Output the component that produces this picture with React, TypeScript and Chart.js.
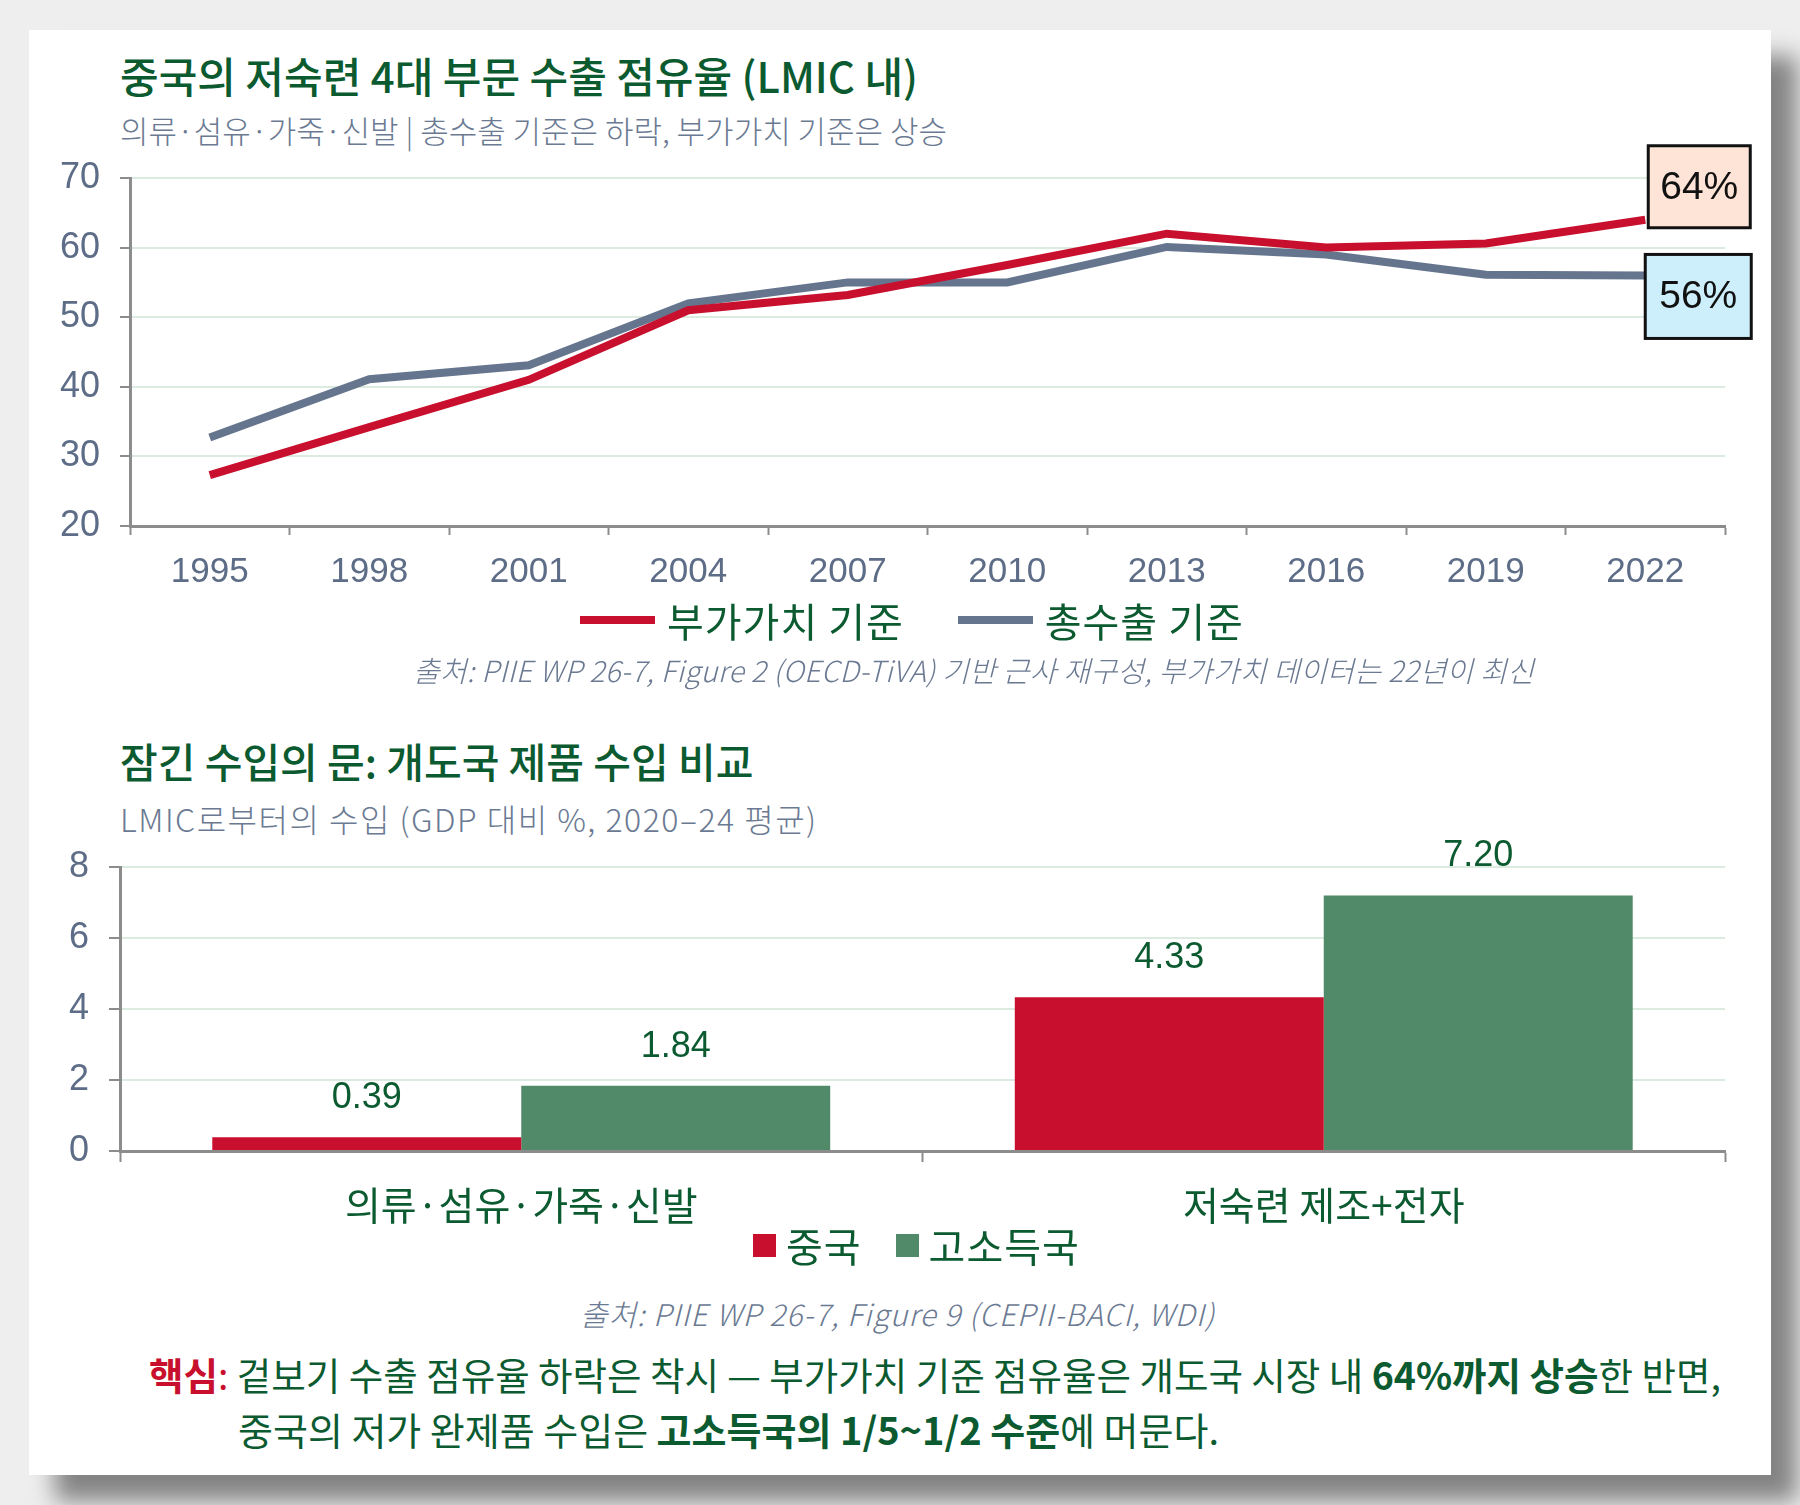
import { useEffect, useRef } from 'react';
import { Chart, registerables } from 'chart.js';

Chart.register(...registerables);

// line chart data (share of LMIC market, %)
const YEARS = ['1995', '1998', '2001', '2004', '2007', '2010', '2013', '2016', '2019', '2022'];
const VALUE_ADDED = [27.3, 34.2, 41, 51, 53.2, 57.5, 62, 60, 60.6, 64];
const GROSS_EXPORTS = [32.7, 41.1, 43.1, 52, 55, 55, 60.1, 59, 56.1, 56];
const LINE_SERIES = ['부가가치 기준', '총수출 기준'];
const END_LABELS = ['64%', '56%'];

// bar chart data (imports from LMIC, % of GDP)
const SECTORS = ['의류·섬유·가죽·신발', '저숙련 제조+전자'];
const CHINA = [0.39, 4.33];
const HIGH_INCOME = [1.84, 7.2];
const BAR_SERIES = ['중국', '고소득국'];

const RED = '#c8102e';
const SLATE = '#66758e';
const BAR_GREEN = '#508a69';
const DARK_GREEN = '#0b5a30';
const TICK = '#5e6d87';
const GRID = '#dcebe0';
const AXIS = '#8c8c8c';
const KR = '"Noto Sans CJK KR", "Noto Sans", sans-serif';
const NUM = '"Liberation Sans", Arial, sans-serif';

const endLabels = {
	id: 'endLabels',
	afterDatasetsDraw(chart: any) {
		const { ctx } = chart;
		const fills = ['#fde4d6', '#cdeefb'];
		ctx.save();
		chart.data.datasets.forEach((_ds: any, i: number) => {
			const pts = chart.getDatasetMeta(i).data;
			const p = pts[pts.length - 1];
			const box =
				i === 0
					? { x: p.x + 3, y: p.y - 74, w: 102, h: 82 }
					: { x: p.x, y: p.y - 21, w: 106, h: 84 };
			ctx.fillStyle = fills[i];
			ctx.fillRect(box.x, box.y, box.w, box.h);
			ctx.lineWidth = 3;
			ctx.strokeStyle = '#111';
			ctx.strokeRect(box.x, box.y, box.w, box.h);
			ctx.fillStyle = '#111';
			ctx.font = `39px ${NUM}`;
			ctx.textAlign = 'center';
			ctx.textBaseline = 'middle';
			ctx.fillText(END_LABELS[i], box.x + box.w / 2, box.y + box.h / 2 + 1);
		});
		ctx.restore();
	},
};

const barValues = {
	id: 'barValues',
	afterDatasetsDraw(chart: any) {
		const { ctx } = chart;
		ctx.save();
		ctx.font = `36px ${NUM}`;
		ctx.fillStyle = DARK_GREEN;
		ctx.textAlign = 'center';
		ctx.textBaseline = 'middle';
		chart.data.datasets.forEach((ds: any, i: number) => {
			chart.getDatasetMeta(i).data.forEach((bar: any, j: number) => {
				ctx.fillText(Number(ds.data[j]).toFixed(2), bar.x, bar.y - 39);
			});
		});
		ctx.restore();
	},
};

const LineChart = () => {
	const ref = useRef<HTMLCanvasElement>(null);

	useEffect(() => {
		const chart = new Chart(ref.current!, {
			type: 'line',
			data: {
				labels: YEARS,
				datasets: [
					{ label: LINE_SERIES[0], data: VALUE_ADDED, borderColor: RED, backgroundColor: RED },
					{ label: LINE_SERIES[1], data: GROSS_EXPORTS, borderColor: SLATE, backgroundColor: SLATE },
				],
			},
			options: {
				animation: false,
				responsive: false,
				layout: { padding: { top: 48, right: 46, left: 0, bottom: 0 } },
				elements: {
					line: { borderWidth: 8, tension: 0 },
					point: { radius: 0, hoverRadius: 0 },
				},
				scales: {
					x: {
						offset: true,
						grid: { offset: true, drawOnChartArea: false, tickLength: 9, tickColor: AXIS, tickWidth: 2 },
						border: { color: AXIS, width: 3 },
						ticks: { color: TICK, font: { family: NUM, size: 35 }, padding: 16, maxRotation: 0, autoSkip: false },
						afterFit: (s: any) => {
							s.height = 68;
						},
					},
					y: {
						min: 20,
						max: 70,
						ticks: { stepSize: 10, color: TICK, font: { family: NUM, size: 36 }, padding: 20 },
						grid: { color: GRID, lineWidth: 2, tickLength: 10, tickColor: AXIS, tickWidth: 2 },
						border: { color: AXIS, width: 3 },
						afterFit: (s: any) => {
							s.width = 101;
						},
					},
				},
				plugins: { tooltip: { enabled: false }, legend: { display: false } },
			},
			plugins: [endLabels],
		});
		return () => chart.destroy();
	}, []);

	return (
		<canvas
			ref={ref}
			width={1742}
			height={464}
			style={{ position: 'absolute', left: 29, top: 130, width: 1742, height: 464 }}
		/>
	);
};

const BarChart = () => {
	const ref = useRef<HTMLCanvasElement>(null);

	useEffect(() => {
		const chart = new Chart(ref.current!, {
			type: 'bar',
			data: {
				labels: SECTORS,
				datasets: [
					{ label: BAR_SERIES[0], data: CHINA, backgroundColor: RED },
					{ label: BAR_SERIES[1], data: HIGH_INCOME, backgroundColor: BAR_GREEN },
				],
			},
			options: {
				animation: false,
				responsive: false,
				layout: { padding: { top: 47, right: 46, left: 0, bottom: 0 } },
				datasets: { bar: { barPercentage: 1, categoryPercentage: 0.77, borderWidth: 0 } },
				scales: {
					x: {
						grid: { offset: true, drawOnChartArea: false, tickLength: 11, tickColor: AXIS, tickWidth: 2 },
						border: { color: AXIS, width: 3 },
						ticks: { color: DARK_GREEN, font: { family: KR, size: 39 }, padding: 20, maxRotation: 0 },
						afterFit: (s: any) => {
							s.height = 74;
						},
					},
					y: {
						min: 0,
						max: 8,
						ticks: { stepSize: 2, color: TICK, font: { family: NUM, size: 36 }, padding: 20 },
						grid: { color: GRID, lineWidth: 2, tickLength: 11, tickColor: AXIS, tickWidth: 2 },
						border: { color: AXIS, width: 3 },
						afterFit: (s: any) => {
							s.width = 91;
						},
					},
				},
				plugins: { tooltip: { enabled: false }, legend: { display: false } },
			},
			plugins: [barValues],
		});
		return () => chart.destroy();
	}, []);

	return (
		<canvas
			ref={ref}
			width={1742}
			height={405}
			style={{ position: 'absolute', left: 29, top: 820, width: 1742, height: 405 }}
		/>
	);
};

const text = (left: number, top: number, size: number, color: string, extra: any = {}) => ({
	position: 'absolute' as const,
	left,
	top,
	fontSize: size,
	lineHeight: `${size}px`,
	color,
	fontFamily: KR,
	whiteSpace: 'nowrap' as const,
	margin: 0,
	...extra,
});

const Legend = ({
	left,
	centerY,
	items,
	colors,
	swatch,
	gap,
	spacing,
}: {
	left: number;
	centerY: number;
	items: string[];
	colors: string[];
	swatch: { w: number; h: number };
	gap: number;
	spacing: number;
}) => (
	<div
		style={{
			position: 'absolute',
			left,
			top: centerY - 25,
			height: 50,
			display: 'flex',
			alignItems: 'center',
			fontFamily: KR,
			fontSize: 40,
			color: DARK_GREEN,
			whiteSpace: 'nowrap',
		}}
	>
		{items.map((label, i) => (
			<div key={label} style={{ display: 'flex', alignItems: 'center', marginLeft: i ? spacing : 0 }}>
				<span style={{ width: swatch.w, height: swatch.h, background: colors[i], marginRight: gap }} />
				<span style={{ letterSpacing: '1px' }}>{label}</span>
			</div>
		))}
	</div>
);

export default function App() {
	return (
		<div
			style={{
				position: 'absolute',
				left: 0,
				top: 0,
				width: 1800,
				height: 1505,
				overflow: 'hidden',
				background: '#eeeeee',
			}}
		>
			<div
				style={{
					position: 'absolute',
					left: 29,
					top: 30,
					width: 1742,
					height: 1445,
					background: '#ffffff',
					boxShadow: '26px 26px 22px rgba(0,0,0,0.45)',
				}}
			/>
			<div style={text(120, 54, 42, DARK_GREEN, { fontWeight: 500 })}>
				중국의 저숙련 4대 부문 수출 점유율 (LMIC 내)
			</div>
			<div style={text(120, 114, 31, '#6b7a92', { fontWeight: 300 })}>
				의류·섬유·가죽·신발 | 총수출 기준은 하락, 부가가치 기준은 상승
			</div>
			<LineChart />
			<Legend
				left={580}
				centerY={620}
				items={LINE_SERIES}
				colors={[RED, SLATE]}
				swatch={{ w: 75, h: 8 }}
				gap={12}
				spacing={54}
			/>
			<div style={text(413, 655, 29, '#6b7a92', { fontStyle: 'italic', fontWeight: 300, letterSpacing: '0.3px' })}>
				출처: PIIE WP 26-7, Figure 2 (OECD-TiVA) 기반 근사 재구성, 부가가치 데이터는 22년이 최신
			</div>
			<div style={text(120, 740, 41, DARK_GREEN, { fontWeight: 500 })}>
				잠긴 수입의 문: 개도국 제품 수입 비교
			</div>
			<div style={text(120, 802, 32, '#6b7a92', { fontWeight: 300, letterSpacing: '1.5px' })}>
				LMIC로부터의 수입 (GDP 대비 %, 2020–24 평균)
			</div>
			<BarChart />
			<Legend
				left={753}
				centerY={1245}
				items={BAR_SERIES}
				colors={[RED, BAR_GREEN]}
				swatch={{ w: 23, h: 23 }}
				gap={10}
				spacing={34}
			/>
			<div style={text(580, 1298, 30, '#6b7a92', { fontStyle: 'italic', fontWeight: 300, letterSpacing: '0.9px' })}>
				출처: PIIE WP 26-7, Figure 9 (CEPII-BACI, WDI)
			</div>
			<div style={text(149, 1355, 37.5, DARK_GREEN)}>
				<span style={{ color: RED, fontWeight: 700 }}>핵심</span>
				<span style={{ color: RED }}>: </span>겉보기 수출 점유율 하락은 착시 — 부가가치 기준 점유율은 개도국 시장 내{' '}
				<span style={{ fontWeight: 700 }}>64%까지 상승</span>한 반면,
			</div>
			<div style={text(238, 1410, 38, DARK_GREEN)}>
				중국의 저가 완제품 수입은 <span style={{ fontWeight: 700 }}>고소득국의 1/5~1/2 수준</span>에 머문다.
			</div>
		</div>
	);
}
